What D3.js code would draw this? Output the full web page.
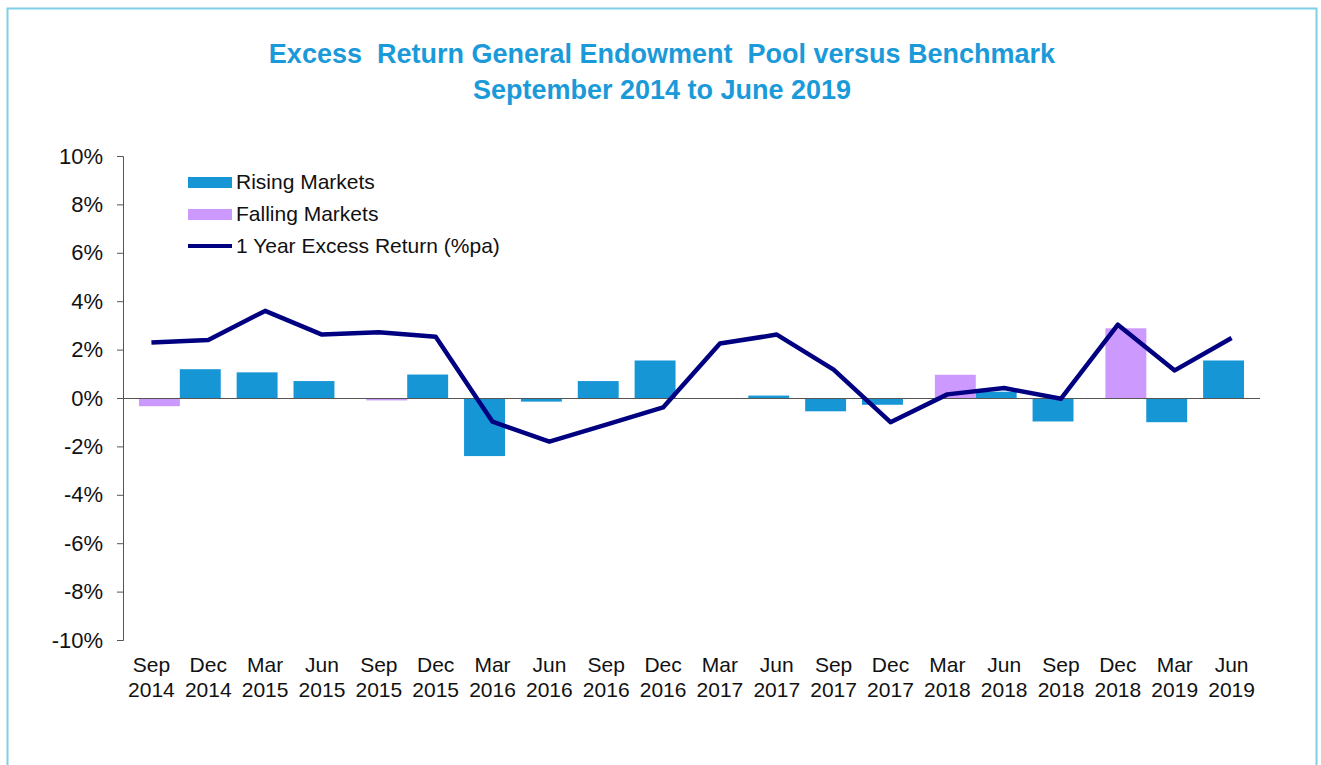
<!DOCTYPE html>
<html>
<head>
<meta charset="utf-8">
<script src="https://cdn.jsdelivr.net/npm/d3@7"></script>
<style>
  body { margin: 0; background: #fff; }
  svg { display: block; font-family: "Liberation Sans", Arial, sans-serif; }
</style>
</head>
<body>
<svg></svg>
<script>
var categories = ["Sep 2014", "Dec 2014", "Mar 2015", "Jun 2015", "Sep 2015", "Dec 2015",
    "Mar 2016", "Jun 2016", "Sep 2016", "Dec 2016", "Mar 2017", "Jun 2017",
    "Sep 2017", "Dec 2017", "Mar 2018", "Jun 2018", "Sep 2018", "Dec 2018",
    "Mar 2019", "Jun 2019"];

// quarterly excess return, split by market direction (null = not in that series)
var rising  = [null, 1.19, 1.06, 0.70, null, 0.97, -2.40, -0.15, 0.70, 1.55,
               0, 0.10, -0.55, -0.28, null, 0.26, -0.97, null, -1.00, 1.55];
var falling = [-0.34, null, null, null, -0.10, null, null, null, null, null,
               null, null, null, null, 0.96, null, null, 2.88, null, null];

// 1 year excess return (%pa)
var oneYear = [2.29, 2.40, 3.60, 2.62, 2.72, 2.53, -0.98, -1.80, -1.10, -0.39,
               2.25, 2.62, 1.17, -1.00, 0.15, 0.41, -0.03, 3.03, 1.14, 2.48];

var yTicks = [10, 8, 6, 4, 2, 0, -2, -4, -6, -8, -10];

var W = 1321, H = 765;
var margin = {top: 156, right: 61, bottom: 125, left: 123},
    width = W - margin.left - margin.right,
    height = H - margin.top - margin.bottom;

var root = d3.select("svg").attr("width", W).attr("height", H);

// frame
root.append("rect")
    .attr("x", 7.5).attr("y", 8.5)
    .attr("width", 1309).attr("height", 770)
    .attr("fill", "none")
    .attr("stroke", "#7fd0e6")
    .attr("stroke-width", 2);

root.append("text")
    .attr("x", 662).attr("y", 63)
    .attr("text-anchor", "middle")
    .attr("font-size", 27).attr("font-weight", "bold")
    .attr("fill", "#1b9ad9")
    .style("white-space", "pre")
    .text("Excess  Return General Endowment  Pool versus Benchmark");
root.append("text")
    .attr("x", 662).attr("y", 99)
    .attr("text-anchor", "middle")
    .attr("font-size", 27).attr("font-weight", "bold")
    .attr("fill", "#1b9ad9")
    .text("September 2014 to June 2019");

var svg = root.append("g")
    .attr("transform", "translate(" + margin.left + "," + margin.top + ")");

var x = d3.scaleBand()
    .range([0, width])
    .domain(categories)
    .paddingInner(0.28)
    .paddingOuter(0.14);

// the two bar series sit slightly apart inside each category
var series = d3.scalePoint().domain(["rising", "falling"]).range([-8, 8]);

var y = d3.scaleLinear()
    .domain([-10, 10])
    .range([height, 0]);

// y axis
var yAxis = svg.append("g")
    .call(d3.axisLeft(y).tickValues(yTicks).tickSize(6).tickPadding(14)
        .tickFormat(function(d) { return d + "%"; }));
yAxis.select(".domain").attr("stroke", "#555").attr("d", "M-6,0.5H0.5V" + (height + 0.5) + "H-6");
yAxis.selectAll("line").attr("stroke", "#555");
yAxis.selectAll("text").attr("font-size", 22).attr("fill", "#111")
    .attr("font-family", "Liberation Sans, Arial, sans-serif");

function drawBars(vals, name, color) {
    svg.selectAll("." + name)
        .data(categories.map(function(c, i) { return {c: c, v: vals[i]}; })
            .filter(function(d) { return d.v !== null; }))
        .enter().append("rect")
        .attr("class", name)
        .attr("x", function(d) { return x(d.c) + series(name); })
        .attr("y", function(d) { return y(Math.max(0, d.v)); })
        .attr("width", x.bandwidth())
        .attr("height", function(d) { return d.v === 0 ? 0 : Math.max(1.5, Math.abs(y(d.v) - y(0))); })
        .attr("fill", color);
}
drawBars(rising, "rising", "#1796d6");
drawBars(falling, "falling", "#cc99ff");

// zero line
svg.append("line")
    .attr("x1", 0).attr("x2", width)
    .attr("y1", y(0) + 0.5).attr("y2", y(0) + 0.5)
    .attr("stroke", "#555").attr("stroke-width", 1.2);

// 1 year line
var line = d3.line()
    .x(function(d, i) { return x(categories[i]) + x.bandwidth() / 2; })
    .y(function(d) { return y(d); });
svg.append("path")
    .datum(oneYear)
    .attr("d", line)
    .attr("fill", "none")
    .attr("stroke", "#000080")
    .attr("stroke-width", 4.5)
    .attr("stroke-linejoin", "round");

// x labels (two lines)
var xl = svg.append("g").selectAll("text")
    .data(categories)
    .enter().append("text")
    .attr("text-anchor", "middle")
    .attr("font-size", 21)
    .attr("fill", "#111")
    .attr("transform", function(d) {
        return "translate(" + (x(d) + x.bandwidth() / 2) + "," + (height + 32) + ")";
    });
xl.append("tspan").attr("x", 0).attr("y", 0).text(function(d) { return d.split(" ")[0]; });
xl.append("tspan").attr("x", 0).attr("y", 25).text(function(d) { return d.split(" ")[1]; });

// legend
var legend = [
    {label: "Rising Markets", color: "#1796d6", type: "bar"},
    {label: "Falling Markets", color: "#cc99ff", type: "bar"},
    {label: "1 Year Excess Return (%pa)", color: "#000080", type: "line"}
];
var lg = root.append("g").attr("transform", "translate(188,182)");
legend.forEach(function(d, i) {
    var row = lg.append("g").attr("transform", "translate(0," + (i * 32) + ")");
    if (d.type === "bar") {
        row.append("rect").attr("x", 0).attr("y", -5).attr("width", 44).attr("height", 11)
            .attr("fill", d.color);
    } else {
        row.append("line").attr("x1", 0).attr("x2", 44).attr("y1", 0).attr("y2", 0)
            .attr("stroke", d.color).attr("stroke-width", 4);
    }
    row.append("text").attr("x", 48).attr("y", 7)
        .attr("font-size", 21).attr("fill", "#111")
        .text(d.label);
});
</script>
</body>
</html>
